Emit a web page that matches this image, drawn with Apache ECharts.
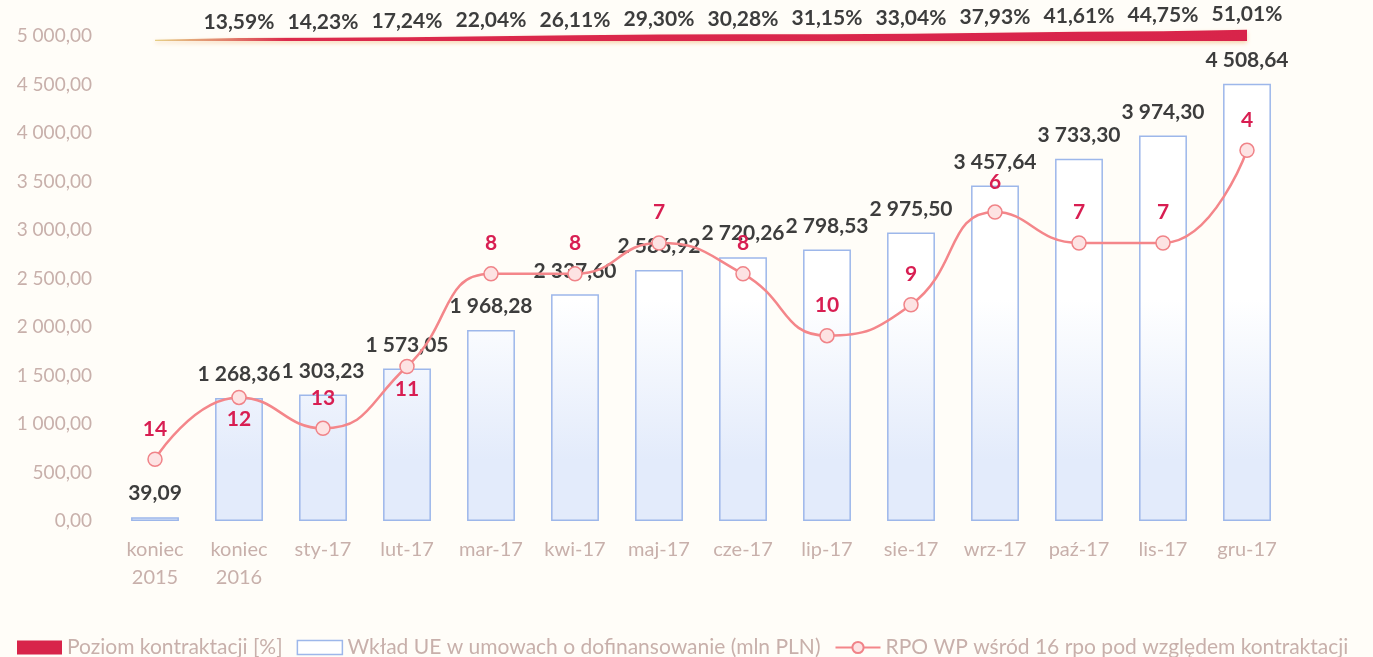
<!DOCTYPE html>
<html>
<head>
<meta charset="utf-8">
<script src="https://cdn.jsdelivr.net/npm/echarts@6/dist/echarts.min.js"></script>
<style>
  html, body { margin: 0; padding: 0; background: #fffdf8; }
  #chart { width: 1373px; height: 657px; }
</style>
</head>
<body>
<div id="chart"></div>
<script>
  // kategorie osi X
  const categories = ['koniec\n2015', 'koniec\n2016', 'sty-17', 'lut-17', 'mar-17', 'kwi-17', 'maj-17',
    'cze-17', 'lip-17', 'sie-17', 'wrz-17', 'paź-17', 'lis-17', 'gru-17']
  // Wkład UE w umowach o dofinansowanie (mln PLN)
  const wkladUE = [39.09, 1268.36, 1303.23, 1573.05, 1968.28, 2337.60, 2586.92,
    2720.26, 2798.53, 2975.50, 3457.64, 3733.30, 3974.30, 4508.64]
  // Poziom kontraktacji [%]
  const poziom = [null, 13.59, 14.23, 17.24, 22.04, 26.11, 29.30,
    30.28, 31.15, 33.04, 37.93, 41.61, 44.75, 51.01]
  // miejsce RPO WP wśród 16 RPO
  const ranking = [14, 12, 13, 11, 8, 8, 7, 8, 10, 9, 6, 7, 7, 4]
  // etykiety pod punktem zamiast nad
  const rankBelow = [1, 3]

  const names = ['Poziom kontraktacji [%]', 'Wkład UE w umowach o dofinansowanie (mln PLN)',
    'RPO WP wśród 16 rpo pod względem kontraktacji']

  const FONT = 'Lato'
  const AXIS_COLOR = '#c8b0ab'

  /*format liczb: 1 268,36*/
  const plFmt = (v) => {
    let s = Number(v).toFixed(2).split('.')
    return s[0].replace(/\B(?=(\d{3})+(?!\d))/g, ' ') + ',' + s[1]
  }

  let chart = echarts.init(document.getElementById('chart'))

  let bandData = []
  poziom.forEach((p, i) => { if (p !== null) bandData.push([i, p]) })
  const lastIdx = categories.length - 1

  /*pasek poziomu kontraktacji rysowany na gorze wykresu*/
  const renderBand = (params, api) => {
    let i = api.value(0)
    let pct = api.value(1)
    let base = api.coord([i, 5000])[1] + 5
    let k = 0.22
    let pt = api.coord([i, 0])
    let children = [{
      type: 'text',
      z2: 10,
      style: {
        text: pct.toFixed(2).replace('.', ',') + '%',
        x: pt[0],
        y: base - pct * k - 5,
        align: 'center',
        verticalAlign: 'bottom',
        fill: '#3d3d3d',
        font: 'bold 21px ' + FONT
      }
    }]
    if (i === lastIdx) {
      let top = []
      let bottom = []
      for (let j = 0; j < poziom.length; j++) {
        let x = api.coord([j, 0])[0]
        let t = (poziom[j] || 0) * k
        top.push([x, base - Math.max(t, 1.2)])
        bottom.unshift([x, base])
      }
      let x0 = api.coord([0, 0])[0]
      let x1 = api.coord([lastIdx, 0])[0]
      children.push({
        type: 'polygon',
        z2: -1,
        shape: { points: top.concat(bottom) },
        style: {
          fill: new echarts.graphic.LinearGradient(x0, 0, x1, 0, [
            { offset: 0, color: '#e6cf86' },
            { offset: 0.07, color: '#e07a6a' },
            { offset: 0.12, color: '#dc2a4c' },
            { offset: 1, color: '#d8244a' }
          ], true),
          shadowColor: 'rgba(235,160,80,0.45)',
          shadowBlur: 4,
          shadowOffsetY: 2
        }
      })
    }
    return { type: 'group', children: children }
  }

  let option = {
    backgroundColor: '#fffdf8',
    animation: false,
    textStyle: { fontFamily: FONT },
    grid: { left: 113, right: 84, top: 36, bottom: 136 },
    legend: {
      left: 12,
      top: 632,
      itemWidth: 45,
      itemHeight: 14,
      itemGap: 14,
      textStyle: { color: AXIS_COLOR, fontSize: 21, fontFamily: FONT },
      data: [
        { name: names[0], icon: 'rect', itemStyle: { color: '#d8244a' } },
        { name: names[1], icon: 'rect', itemStyle: { color: '#ffffff', borderColor: '#9db7ea', borderWidth: 1.5 } },
        { name: names[2] }
      ]
    },
    xAxis: {
      type: 'category',
      data: categories,
      axisLine: { show: false },
      axisTick: { show: false },
      axisLabel: { color: AXIS_COLOR, fontSize: 20, lineHeight: 28, margin: 15, fontFamily: FONT }
    },
    yAxis: [{
      type: 'value',
      min: 0,
      max: 5000,
      interval: 500,
      splitLine: { show: false },
      axisLine: { show: false },
      axisTick: { show: false },
      axisLabel: { color: AXIS_COLOR, fontSize: 19, margin: 21, fontFamily: FONT, formatter: plFmt }
    }, {
      type: 'value',
      inverse: true,
      min: 0.3,
      max: 16,
      show: false
    }],
    series: [{
      name: names[1],
      type: 'bar',
      data: wkladUE,
      barWidth: '57%',
      itemStyle: {
        color: new echarts.graphic.LinearGradient(0, 300, 0, 460, [
          { offset: 0, color: '#ffffff' },
          { offset: 1, color: '#e3ebfb' }
        ], true),
        borderColor: '#9db7ea',
        borderWidth: 1.5
      },
      label: {
        show: true,
        position: 'top',
        distance: 13,
        color: '#3d3d3d',
        fontWeight: 'bold',
        fontSize: 21,
        fontFamily: FONT,
        formatter: (p) => plFmt(p.value)
      }
    }, {
      name: names[2],
      type: 'line',
      yAxisIndex: 1,
      smooth: 0.5,
      data: ranking.map((r, i) => ({
        value: r,
        label: rankBelow.includes(i) ? { position: 'bottom', distance: 4 } : undefined
      })),
      symbol: 'circle',
      symbolSize: 14,
      lineStyle: { color: '#f4868a', width: 2.5 },
      itemStyle: { color: '#fde3e3', borderColor: '#f08388', borderWidth: 1.5 },
      label: {
        show: true,
        position: 'top',
        distance: 12,
        color: '#d81e52',
        fontWeight: 'bold',
        fontSize: 21,
        fontFamily: FONT
      },
      z: 5
    }, {
      name: names[0],
      type: 'custom',
      renderItem: renderBand,
      data: bandData,
      itemStyle: { color: '#d8244a' },
      clip: false,
      z: 6
    }]
  }

  chart.setOption(option)
</script>
</body>
</html>
